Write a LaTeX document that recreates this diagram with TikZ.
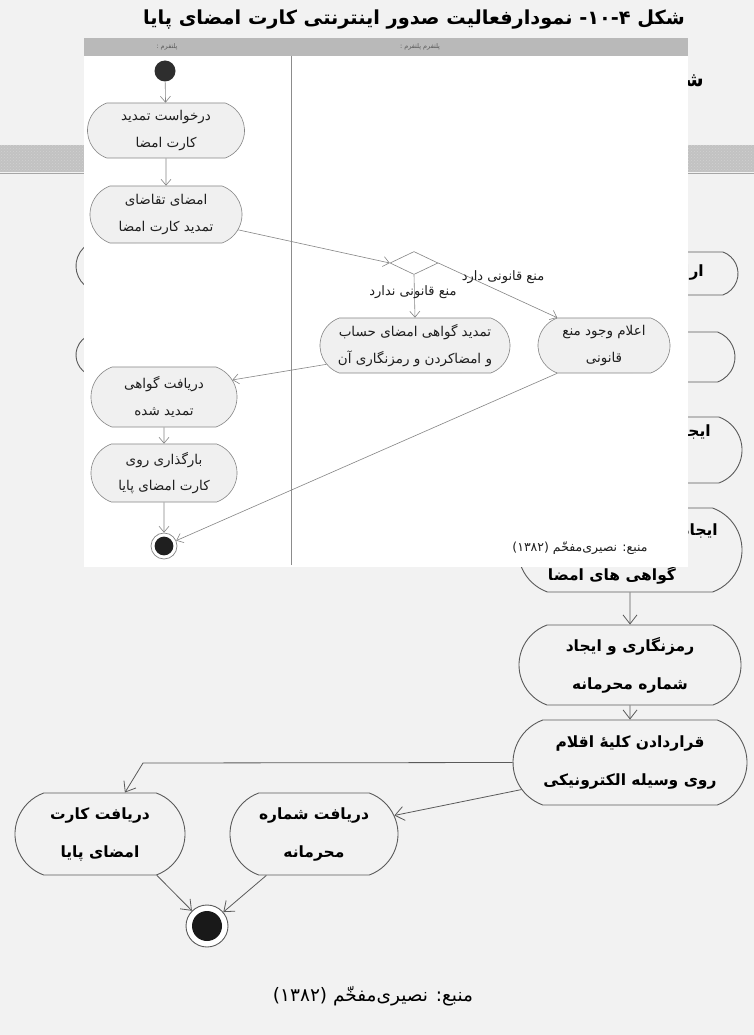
\documentclass[tikz,border=0pt]{standalone}
\usepackage{fontspec}
\usetikzlibrary{shapes.misc,shapes.geometric,arrows.meta,patterns}
\TeXXeTstate=1
\newfontfamily\fafont[Script=Arabic]{DejaVu Sans}
\newcommand\fa[1]{\beginR #1\endR}
\definecolor{pagebg}{HTML}{F2F2F2}
\definecolor{bandgray}{HTML}{C2C2C2}
\definecolor{hdrgray}{HTML}{B9B9B9}
\definecolor{actfill}{HTML}{F0F0F0}
\definecolor{actline}{HTML}{858585}
\definecolor{oldline}{HTML}{5A5A5A}
\definecolor{inktext}{HTML}{1E1E1E}
\begin{document}
\begin{tikzpicture}[x=1pt,y=-1pt,
  act/.style={rounded rectangle, rounded rectangle arc length=140, draw=actline,
    fill=actfill, line width=0.6pt, inner sep=0pt, align=center, text=inktext,
    font={\fafont\fontsize{13.5}{26.5}\selectfont}},
  oldact/.style={rounded rectangle, rounded rectangle arc length=140, draw=oldline,
    fill=pagebg, line width=0.9pt, inner sep=0pt, align=center, text=black,
    font={\fafont\bfseries\fontsize{15.5}{38}\selectfont}},
  oldtxt/.style={inner sep=0pt, text=black, font={\fafont\bfseries\fontsize{15.5}{18}\selectfont}},
  sz/.style 2 args={minimum width=#1, minimum height=#2},
  flow/.style={draw=actline, line width=0.6pt, -{Straight Barb[length=6pt,width=10pt]}},
  oldflow/.style={draw=oldline, line width=0.8pt, -{Straight Barb[length=9pt,width=14pt]}},
  guard/.style={inner sep=0pt, text=inktext, font={\fafont\fontsize{13}{15}\selectfont}},
  hdrtxt/.style={inner sep=0pt, text=black!65, font={\fafont\fontsize{6.5}{7}\selectfont}},
  startdot/.style={circle, fill=black!82, minimum size=21pt, inner sep=0pt},
  enddot/.style={circle, draw=actline, fill=white, line width=0.7pt, minimum size=#1, inner sep=0pt,
    path picture={\fill[black!88] (path picture bounding box.center) circle (#1*0.36);}},
  decision/.style={diamond, draw=actline, fill=white, line width=0.6pt, minimum width=48pt,
    minimum height=23pt, inner sep=0pt},
  lane/.style={draw=black!45, line width=0.5pt}
]
\useasboundingbox (0,0) rectangle (754,1035);
\fill[pagebg] (0,0) rectangle (754,1035);

% ---------- older, larger chart underneath ----------
\node[anchor=east, inner sep=0pt, font={\fafont\bfseries\fontsize{20}{24}\selectfont}] (oldtitle) at (704,81) {\fa{شکل}};
\fill[bandgray] (0,145) rectangle (754,172);
\fill[pattern=crosshatch dots, pattern color=black!18] (0,145) rectangle (754,172);
\draw[black!35, line width=0.4pt] (0,173.5) -- (754,173.5);

\node[oldact, sz={190}{48}] (ua1) at (171,266) {};
\node[oldact, sz={190}{40}] (ua2) at (171,355) {};
\node[oldact, sz={230}{43}] (ub1) at (623,273.5) {};
\node[oldtxt, anchor=east] (ub1t) at (704,273) {\fa{ارائه}};
\node[oldact, sz={230}{50}] (ub2) at (620,357) {};
\node[oldact, sz={240}{66}] (ub3) at (622,450) {};
\node[oldtxt, anchor=east] (ub3t) at (711,432) {\fa{ایجاد}};
\node[oldact, sz={224}{84}] (ub4) at (630,550) {};
\node[oldtxt, anchor=east] (ub4t) at (718,531) {\fa{ایجاد کلید}};
\node[oldtxt] (ub4b) at (612,575) {\fa{گواهی های امضا}};
\node[oldact, sz={222}{80}] (ub5) at (630,665) {\fa{رمزنگاری و ایجاد}\\\fa{شماره محرمانه}};
\node[oldact, sz={234}{85}] (ub6) at (630,762.5) {\fa{قراردادن کلیهٔ اقلام}\\\fa{روی وسیله الکترونیکی}};
\node[oldact, sz={170}{82}] (ub7) at (100,834) {\fa{دریافت کارت}\\\fa{امضای پایا}};
\node[oldact, sz={168}{82}] (ub8) at (314,834) {\fa{دریافت شماره}\\\fa{محرمانه}};
\node[circle, draw=oldline, fill=white, line width=0.9pt, minimum size=42pt, inner sep=0pt,
  path picture={\fill[black!90] (path picture bounding box.center) circle (15);}] (uend) at (207,926) {};
\coordinate (ubend) at (143,763);

\draw[oldflow] (ub4) -- (ub5);
\draw[oldflow] (ub5) -- (ub6);
\draw[oldflow] (ub6.west) -- (ubend) -- (ub7.59);
\draw[oldflow] (ub6.194) -- (ub8.13);
\draw[oldflow] (ub7.-36) -- (uend);
\draw[oldflow] (ub8.221) -- (uend);

\node[inner sep=0pt, text=black, font={\fafont\fontsize{18.5}{22}\selectfont}] (usrc) at (373,996)
  {\fa{منبع: نصیری‌مفخّم \beginL(۱۳۸۲)\endL}};

% ---------- page title ----------
\node[inner sep=0pt, text=black, font={\fafont\bfseries\fontsize{19.3}{23}\selectfont}] (title) at (414,20)
  {\fa{شکل \hbox{۴}\hbox{-}\hbox{۱۰}\hbox{-} نمودارفعالیت صدور اینترنتی کارت امضای پایا}};

% ---------- renewal activity chart ----------
\fill[white] (84,38) rectangle (688,567);
\fill[hdrgray] (84,38) rectangle (688,56);
\node[hdrtxt] (lane1) at (167,46.5) {\fa{پلتفرم :}};
\node[hdrtxt] (lane2) at (420,46.5) {\fa{پلتفرم پلتفرم :}};
\draw[lane] (291,56) -- (291,565);

\node[startdot] (start) at (165,71) {};
\node[act, sz={157}{55}] (n1) at (166,130.5) {\fa{درخواست تمدید}\\\fa{کارت امضا}};
\node[act, sz={152}{57}] (n2) at (166,214.5) {\fa{امضای تقاضای}\\\fa{تمدید کارت امضا}};
\node[decision] (dec) at (414,263) {};
\node[act, sz={190}{55}] (n5) at (415,345.5) {\fa{تمدید گواهی امضای حساب}\\\fa{و امضاکردن و رمزنگاری آن}};
\node[act, sz={132}{55}] (n6) at (604,345.5) {\fa{اعلام وجود منع}\\\fa{قانونی}};
\node[act, sz={146}{60}] (n3) at (164,397) {\fa{دریافت گواهی}\\\fa{تمدید شده}};
\node[act, sz={146}{58}] (n4) at (164,473) {\fa{بارگذاری روی}\\\fa{کارت امضای پایا}};
\node[enddot=26pt] (end) at (164,546) {};

\draw[flow] (start) -- (n1);
\draw[flow] (n1) -- (n2);
\draw[flow] (n2.-12) -- (dec.west);
\draw[flow] (dec.south) -- (n5.north);
\draw[flow] (dec.east) -- (n6.north west);
\draw[flow] (n5.192) -- (n3.14);
\draw[flow] (n3) -- (n4);
\draw[flow] (n4) -- (end);
\draw[flow] (n6.south west) -- (end);

\node[guard] (g1) at (413,292) {\fa{منع قانونی ندارد}};
\node[guard] (g2) at (503,277) {\fa{منع قانونی دارد}};

\node[inner sep=0pt, text=inktext, font={\fafont\fontsize{12.5}{15}\selectfont}] (src) at (580,548)
  {\fa{منبع: نصیری‌مفخّم \beginL(۱۳۸۲)\endL}};
\end{tikzpicture}
\end{document}
